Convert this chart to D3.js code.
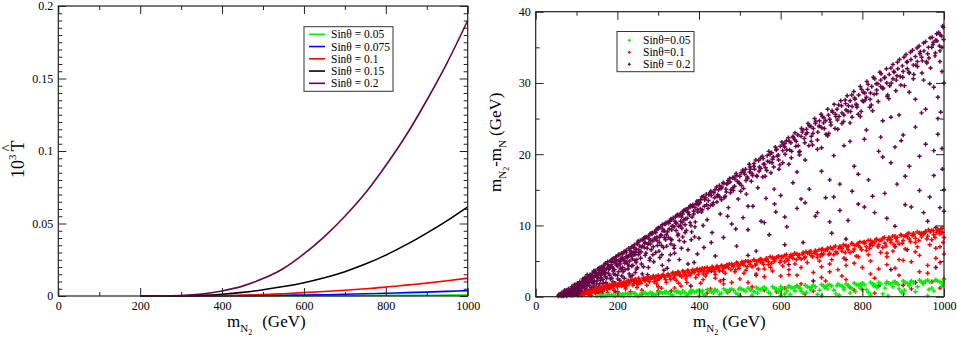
<!DOCTYPE html>
<html lang="en">
<head>
  <meta charset="UTF-8">
  <title>T parameter and mass splitting vs m_N2</title>
  <script src="https://d3js.org/d3.v7.min.js"></script>
  <style>
    body { margin: 0; background: #fff; }
    svg { display: block; }
    svg text { font-family: "Liberation Serif", "Times New Roman", Times, serif !important; fill: #000; }
    .tick text { font-size: 12px; }
  </style>
</head>
<body>
  <svg id="chart" width="957" height="339"></svg>
  <script>
    // left panel: 10^3 T-hat vs m_N2, one curve per sin(theta)
    const massGrid = [200, 250, 300, 350, 400, 450, 500, 550, 600, 650, 700, 750, 800, 850, 900, 950, 1000];
    const tSin005  = [0, 0, 0, 0, 0, 0, 0.0001, 0.0001, 0.0001, 0.0002, 0.0002, 0.0003, 0.0004, 0.0004, 0.0005, 0.0006, 0.0007];
    const tSin0075 = [0, 0, 0, 0, 0.0001, 0.0002, 0.0003, 0.0005, 0.0007, 0.0009, 0.0012, 0.0015, 0.0019, 0.0023, 0.0027, 0.0032, 0.0037];
    const tSin01   = [0, 0, 0, 0.0001, 0.0003, 0.0006, 0.0010, 0.0016, 0.0023, 0.0031, 0.0040, 0.0050, 0.0061, 0.0075, 0.0089, 0.0105, 0.0123];
    const tSin015  = [0, 0, 0.0001, 0.0004, 0.0012, 0.0025, 0.0043, 0.0065, 0.0092, 0.0126, 0.0168, 0.0220, 0.0282, 0.0354, 0.0434, 0.0520, 0.0615];
    const tSin02   = [0, 0.00002, 0.0003, 0.0013, 0.0035, 0.0068, 0.012, 0.019, 0.029, 0.041, 0.055, 0.071, 0.090, 0.111, 0.135, 0.161, 0.19];
    const leftLabels = ["Sin\u03b8 = 0.05", "Sin\u03b8 = 0.075", "Sin\u03b8 = 0.1", "Sin\u03b8 = 0.15", "Sin\u03b8 = 0.2"];
    const leftYTicks = [0, 0.05, 0.1, 0.15, 0.2];
    const xTicks = [0, 200, 400, 600, 800, 1000];

    // right panel: m_N2 - m_N vs m_N2 scan points
    const rightLabels = ["Sin\u03b8=0.05", "Sin\u03b8=0.1", "Sin\u03b8 = 0.2"];
    const rightYTicks = [0, 10, 20, 30, 40];

    const scan02 = [
      [55,0.1],[60,0.3],[62,0.1],[68,0.5],[70,0.2],[74,0.8],[77,0.4],[80,1.1],[82,0.6],[85,0.2],[88,1.4],[90,0.9],[93,0.4],[95,1.7],[97,1.2],
      [100,0.6],[102,1.9],[104,0.2],[106,1.4],[108,2.1],[110,0.9],[112,1.6],[115,2.5],[117,0.4],[119,1.9],[121,2.7],[123,1.1],[125,2.2],[127,0.6],
      [129,2.9],[131,1.6],[133,3.1],[135,2.4],[137,0.9],[139,3.3],[141,1.9],[143,2.8],[145,3.6],[147,0.5],[149,3.0],[150,2.2],[152,3.9],[154,1.4],[156,3.4],
      [158,4.1],[160,2.7],[162,3.7],[164,0.8],[166,4.3],[168,3.1],[170,4.6],[172,2.0],[174,3.9],[176,4.9],[178,3.3],[180,1.2],[182,5.0],[184,4.2],
      [186,2.6],[188,5.3],[190,3.6],[192,4.8],[194,1.8],[196,5.6],[198,4.4],[200,3.0],[202,5.8],[204,5.1],[206,2.3],[208,4.0],[210,6.1],[212,5.4],
      [214,3.5],[216,6.3],[218,4.7],[220,1.5],[222,6.5],[224,5.6],[226,3.9],[228,6.8],[230,5.0],[232,2.8],[234,6.3],[236,7.0],[238,4.4],[240,5.9],
      [242,7.3],[244,3.4],[246,6.7],[248,5.2],[250,7.6],
      [253,6.2],[256,7.9],[259,4.6],[262,7.1],[265,8.2],[268,5.8],[271,8.4],[274,3.1],[277,7.5],[280,8.8],[283,6.6],[286,9.0],[289,4.9],[292,8.1],
      [295,9.4],[298,7.2],[301,9.7],[304,5.5],[307,8.7],[310,10.1],[313,6.9],[316,9.2],[319,10.4],[322,4.0],[325,8.3],[328,10.6],[331,7.4],[334,9.9],
      [337,11.1],[340,6.1],[343,10.3],[346,11.4],[349,8.8],[352,5.2],[355,11.7],[358,9.6],[361,12.0],[364,7.7],[367,10.9],[370,12.3],[373,6.6],
      [376,11.5],[379,12.6],[382,9.1],[385,12.9],[388,4.8],[391,10.5],[394,13.1],[397,11.9],[400,8.2],
      [404,13.6],[408,12.2],[412,6.9],[416,13.9],[420,10.8],[424,14.3],[428,12.8],[432,9.0],[436,14.6],[440,5.7],[444,13.3],[448,15.0],[452,11.6],
      [456,15.4],[460,8.3],[464,14.1],[468,15.8],[472,12.5],[476,16.1],[480,10.2],[484,14.9],[488,16.5],[492,7.1],[496,13.7],[500,16.9],[504,15.6],
      [508,11.1],[512,17.2],[516,14.4],[520,9.4],[524,17.5],[528,16.2],[532,12.7],[536,17.9],[540,6.4],[544,15.3],[548,18.2],[552,10.6],[556,16.8],
      [560,18.6],[564,13.8],[568,19.0],[572,8.7],[576,17.4],[580,19.3],[584,15.1],[588,11.9],[592,19.7],[596,17.9],[600,14.2],
      [605,20.5],[610,21.0],[615,9.8],[620,18.6],[625,21.6],[630,16.0],[635,22.0],[640,12.4],[645,20.3],[650,22.5],[655,7.6],[660,19.2],[665,23.0],
      [670,15.1],[675,21.8],[680,23.6],[685,11.3],[690,20.7],[695,24.0],[700,17.6],[705,24.4],[710,13.9],[715,22.6],[720,24.9],[725,8.9],[730,19.8],
      [735,25.3],[740,23.5],[745,15.8],[750,25.8],[755,21.2],[760,26.2],[765,10.7],[770,24.4],[775,26.7],[780,18.3],[785,27.0],[790,13.0],[795,25.3],[800,27.5],
      [805,22.1],[810,28.0],[815,16.4],[820,28.6],[825,26.1],[830,11.8],[835,29.0],[840,20.4],[845,29.5],[850,24.7],[855,14.5],[860,30.0],[865,27.8],
      [870,18.8],[875,30.6],[880,9.9],[885,31.0],[890,25.5],[895,21.9],[900,31.6],[905,16.9],[910,32.0],[915,28.7],[920,12.6],[925,32.5],[930,23.8],
      [935,33.0],[940,19.7],[945,33.6],[950,30.4],[955,26.3],[960,34.1],[965,14.0],[970,35.0],[975,29.4],[980,36.0],[985,22.8],[990,36.8],[995,31.6],
      [998,37.8],[996,17.9],[992,25.9],
      [120,2.6],[126,3.1],[134,2.9],[142,3.6],[148,3.3],[155,4.0],[163,3.6],[171,4.7],[179,4.3],[187,5.2],[195,4.9],[203,5.9],[211,5.2],[219,6.4],
      [227,5.7],[235,7.0],[243,6.3],[251,7.8],[259,7.0],[267,8.3],[275,7.4],[283,8.9],[291,8.2],[299,9.6],[307,8.6],[315,10.2],[323,9.1],[331,10.9],
      [339,9.8],[347,11.5],[355,10.6],[363,12.1],[371,11.0],[379,12.8],[387,11.6],[395,13.4],[403,12.3],[411,14.1],[419,12.9],[427,14.6],[435,13.2],
      [443,15.4],[451,14.0],[459,16.0],[467,14.7],[475,16.6],[483,15.3],[491,17.3],[499,15.9],[507,17.8],[515,16.3],[523,18.6],[531,17.0],[539,19.2],
      [547,17.6],[555,19.7],[563,18.1],[571,20.4],[579,18.8],[587,21.0],[595,19.2],[603,21.7],[611,20.0],[619,22.3],[627,20.4],[635,23.0],[643,21.2],
      [651,23.6],[659,21.6],[667,24.3],[675,22.5],[683,25.0],[691,23.1],[699,25.6],[707,23.6],[715,26.3],[723,24.1],[731,27.0],[739,24.8],[747,27.5],
      [755,25.5],[763,28.2],[771,26.0],[779,28.8],[787,26.6],[795,29.5],[803,27.4],[811,30.2],[819,27.7],[827,30.8],[835,28.5],[843,31.5],[851,29.3],
      [859,32.0],[867,29.6],[875,32.6],[883,30.4],[891,33.3],[899,30.8],[907,34.0],[915,31.4],[923,34.6],[931,32.5],[939,35.2],[947,33.1],[955,35.8],
      [963,33.5],[971,36.4],[979,34.2],[987,37.1],[995,35.0],
      [620,4.5],[700,6.0],[760,5.2],[820,7.3],[870,3.8],[910,6.6],[950,8.8],[980,4.1],[540,3.0],[460,2.4],[380,1.5],[300,0.8],[250,1.9],[680,2.2],
      [840,1.5],[930,2.0],[720,10.5],[860,11.0],[960,10.6],[990,12.5],[1000,15.0],[975,20.5],[945,25.8],[985,28.0],[1000,30.0],[990,33.0],
      [57,0.3],[64,0.6],[71,0.9],[76,0.1],[79,0.7],[84,1.0],[87,0.3],[92,1.3],[96,0.8],[99,1.6],[103,1.1],[107,0.5],[111,1.9],[114,1.3],[118,2.2],
      [122,1.7],[124,0.9],[128,2.4],[132,2.0],[136,1.3],[140,2.8],[144,2.2],[146,1.0],[151,3.1],[153,2.6],[157,1.8],[161,3.3],[165,2.4],[169,3.7],
      [173,1.1],[177,4.1],[181,3.0],[185,4.5],[189,2.1],[193,3.8],[197,5.0],[201,4.3],[205,1.6],[209,5.4],[213,4.1],[217,2.6],[221,5.6],[225,4.6],
      [229,3.2],[233,6.0],[237,5.3],[241,2.2],[245,6.2],[249,4.1],
      [262,8.0],[268,7.6],[278,8.1],[287,7.8],[294,9.0],[303,8.3],[311,9.5],[318,8.0],[326,10.3],[333,9.4],[341,10.6],[350,9.9],[357,11.2],[366,10.1],
      [374,11.8],[383,11.2],[390,12.5],[398,12.9],[406,11.9],[414,13.6],[422,12.4],[430,14.2],[438,13.9],[446,14.3],[454,15.2],[462,13.9],[470,15.9],
      [478,15.0],[486,16.8],[494,16.2],[502,14.8],[510,17.5],[518,16.8],[526,17.9],[534,18.3],[542,16.9],[550,19.4],[558,18.6],[566,17.7],[574,20.0],
      [582,19.6],[590,20.7],[598,18.5],[606,21.3],[614,21.9],[622,20.6],[630,22.5],[638,21.8],[646,19.9],[654,23.4],[662,22.8],[670,24.0],[678,21.3],
      [686,24.6],[694,23.9],[702,25.3],[710,24.7],[718,22.9],[726,26.1],[734,25.6],[742,26.9],[750,24.3],[758,27.6],[766,26.8],[774,28.3],[782,27.7],
      [790,25.6],[798,29.1],[806,28.6],[814,29.8],[822,26.9],[830,30.6],[838,29.9],[846,31.3],[854,30.7],[862,28.3],[870,32.1],[878,31.5],[886,32.9],
      [894,29.7],[902,33.6],[910,33.0],[918,34.3],[926,31.2],[934,34.9],[942,34.4],[950,35.6],[958,32.8],[966,36.3],[974,35.7],[982,36.9],[990,34.5],[997,38.0],
      [640,17.5],[660,13.2],[700,20.9],[720,16.4],[745,12.1],[770,21.8],[790,17.2],[810,23.4],[825,14.1],[850,19.6],[870,25.2],[885,15.8],[900,22.7],
      [915,18.3],[930,27.7],[940,14.9],[955,21.4],[965,29.9],[975,17.0],[985,25.0],[995,20.8],[1000,12.0],[950,11.8],[905,12.9],[880,21.0],[845,22.4],
      [805,12.6],[775,14.8],[730,14.0],[690,11.8],[650,13.7],[610,11.2],[585,13.0],[560,10.4],[520,12.7],[490,9.5],[470,11.3],[430,7.6],[410,10.0],
      [360,8.4],[330,5.9],[280,5.4],[310,4.4],[430,3.6],[520,5.8],[610,7.3],[760,8.1],[880,7.0],[980,9.7],
      [66,0.2],[73,0.4],[81,0.3],[86,0.8],[91,0.6],[94,1.1],[98,0.3],[101,1.4],[105,0.9],[109,1.7],[113,0.7],[116,2.0],[119,1.2],[124,2.1],[126,1.5],
      [130,0.3],[134,2.6],[138,2.0],[142,1.1],[145,2.9],[149,1.8],[155,3.3],[159,2.3],[163,0.5],[167,3.5],[171,2.8],[175,1.6],[179,3.9],[183,2.5],
      [187,4.2],[191,3.2],[195,0.7],[199,4.6],[203,3.5],[207,4.9],[211,2.9],[215,5.3],[219,3.8],[223,4.9],[227,2.2],[231,5.9],[235,4.3],[239,6.2],
      [243,5.1],[247,3.9],[252,6.6],[257,5.4],[261,3.2],[266,6.9],[270,6.1],[276,4.1],[281,7.4],[287,5.9],[293,2.6],[297,7.9],[302,6.4],[308,7.2],
      [314,3.7],[320,8.7],[326,5.1],[333,8.0],[339,6.8],[344,9.3],[352,7.9],[359,10.4],[366,9.0],[373,4.6],[380,10.0],[389,8.4],[396,6.0],
      [58,0.2],[63,0.4],[67,0.1],[72,0.6],[75,0.3],[78,0.9],[83,0.5],[89,1.0],[91,0.2],[96,1.5],[98,1.0],[102,0.8],[105,1.8],[108,1.2],[111,0.3],[113,2.1],
      [117,1.5],[121,0.8],[123,2.5],[127,1.9],[130,2.8],[133,1.0],[136,2.9],[139,2.3],[143,1.5],[146,3.5],[150,2.8],[153,0.6],[156,3.8],[159,3.0],
      [162,4.2],[165,1.9],[168,4.0],[171,3.4],[174,2.6],[177,4.5],[180,3.9],[183,1.4],[186,4.9],[189,4.0],[192,5.4],[195,3.1],[198,5.2],[201,2.5],
      [204,5.9],[207,4.6],[210,3.8],[213,6.0],[216,5.1],[219,1.9],[222,6.2],[225,5.5],[228,4.3],[231,6.5],[234,5.7],[237,3.0],[240,6.9],[243,5.9],
      [246,4.8],[249,7.4],[252,5.9],[255,7.1],[258,6.3],[261,8.0],[264,4.2],[267,7.5],[270,8.3],[273,6.8],[276,8.5],[279,5.1],[282,7.9],[285,8.8],
      [288,7.0],[291,9.1],[294,6.2],[297,8.4],[300,9.5],[303,7.6],[306,9.8],[309,5.9],[312,9.2],[315,8.3],[318,10.2],[321,7.1],[324,10.5],[327,9.5],
      [330,8.1],[333,10.8],[336,9.9],[339,7.2],[342,11.2],[345,10.3],[348,8.6],[351,11.4],[354,10.0],[357,6.8],[360,11.6],[363,10.8],[366,12.2],
      [369,9.3],[372,11.9],[375,12.5],[378,10.4],[381,8.0],[384,12.7],[387,12.0],[390,9.8],[393,13.0],[396,12.2],[399,13.4],
      [402,13.2],[407,14.0],[413,12.7],[418,14.4],[423,13.5],[429,14.8],[434,12.9],[439,15.0],[445,14.1],[450,15.6],[455,13.6],[461,15.9],[466,15.1],
      [471,16.3],[477,14.6],[482,16.7],[487,15.5],[493,17.0],[498,16.0],[503,17.4],[509,15.2],[514,17.9],[519,16.6],[525,18.2],[530,17.3],[535,18.7],
      [541,17.0],[546,19.1],[551,18.0],[557,19.4],[562,16.9],[567,19.8],[573,18.9],[578,20.2],[583,18.2],[589,20.6],[594,19.9],[599,21.1],[605,18.8],
      [610,21.5],[615,20.6],[621,21.8],[626,19.5],[631,22.3],[637,21.1],[642,22.7],[647,20.4],[653,23.1],[658,22.2],[663,23.5],[669,21.2],[674,23.9],
      [679,22.9],[685,24.3],[690,22.0],[695,24.7],[701,23.7],[706,25.1],[711,22.8],[717,25.5],[722,24.5],[727,25.9],[733,23.6],[738,26.3],[743,25.3],
      [749,26.8],[754,24.6],[759,27.1],[765,26.0],[770,27.5],[775,25.2],[781,27.9],[786,26.9],[791,28.3],[797,26.0],[802,28.7],[807,27.6],[813,29.1],
      [818,26.6],[823,29.5],[829,28.4],[834,29.9],[839,27.4],[845,30.4],[850,29.2],[855,30.8],[861,28.1],[866,31.2],[871,30.0],[877,31.6],[882,28.9],
      [887,32.0],[893,30.9],[898,32.4],[903,29.6],[909,32.9],[914,31.5],[919,33.3],[925,30.6],[930,33.7],[935,32.3],[941,34.1],[946,31.4],[951,34.5],
      [957,33.0],[962,35.0],[967,32.1],[973,35.4],[978,33.8],[983,35.9],[989,35.2],[994,36.6],[999,36.1]
    ];

    const scan01 = [
      [112,0.2],[116,0.5],[120,0.3],[124,0.7],[128,0.4],[132,0.9],[136,0.2],[140,1.0],[144,0.6],[148,1.2],[152,0.8],[156,1.3],[160,0.4],[164,1.5],
      [168,1.0],[172,1.6],[176,0.6],[180,1.7],[184,1.2],[188,1.8],[192,0.9],[196,1.9],[200,1.4],[204,0.5],[208,2.0],[212,1.6],[216,2.1],[220,1.1],
      [224,2.2],[228,1.8],[232,0.7],[236,2.4],[240,1.9],[244,2.5],[248,1.3],[252,2.6],[256,2.1],[260,0.9],[264,2.7],[268,2.2],[272,1.6],[276,2.8],
      [280,2.4],[284,0.4],[288,2.9],[292,2.5],[296,1.8],[300,3.0],[304,2.6],[308,1.2],[312,3.1],[316,2.7],[320,2.0],[324,3.2],[328,2.8],[332,0.8],
      [336,3.4],[340,2.9],[344,2.3],[348,3.5],[352,3.0],[356,1.5],[360,3.6],[364,3.1],[368,2.5],[372,3.7],[376,3.3],[380,0.6],[384,3.8],[388,3.4],
      [392,2.7],[396,3.9],[400,3.5],[404,1.9],[408,4.0],[412,3.6],[416,2.9],[420,4.1],[424,3.7],[428,1.1],[432,4.2],[436,3.8],[440,3.1],[444,4.3],
      [448,3.9],[452,2.2],[456,4.4],[460,4.0],[464,3.3],[468,4.5],[472,4.1],[476,0.9],[480,4.6],[484,4.2],[488,3.5],[492,4.8],[496,4.3],[500,2.5],
      [505,4.9],[510,4.4],[515,3.7],[520,5.0],[525,4.5],[530,1.4],[535,5.1],[540,4.6],[545,3.9],[550,5.3],[555,4.8],[560,2.8],[565,5.4],[570,4.9],
      [575,4.1],[580,5.5],[585,5.0],[590,0.7],[595,5.7],[600,5.1],[605,4.3],[610,5.8],[615,5.3],[620,3.1],[625,5.9],[630,5.4],[635,4.6],[640,6.0],
      [645,5.5],[650,1.8],[655,6.2],[660,5.6],[665,4.8],[670,6.3],[675,5.8],[680,3.4],[685,6.5],[690,5.9],[695,5.0],[700,6.6],[705,6.0],[710,2.2],
      [715,6.8],[720,6.1],[725,5.2],[730,6.9],[735,6.3],[740,3.8],[745,7.1],[750,6.4],[755,5.4],[760,7.2],[765,6.6],[770,1.3],[775,7.4],[780,6.7],
      [785,5.7],[790,7.5],[795,6.9],[800,4.1],[805,7.7],[810,7.0],[815,5.9],[820,7.9],[825,7.2],[830,2.6],[835,8.0],[840,7.3],[845,6.2],[850,8.2],
      [855,7.5],[860,4.5],[865,8.3],[870,7.6],[875,6.4],[880,8.5],[885,7.8],[890,3.0],[895,8.6],[900,7.9],[905,6.7],[910,8.8],[915,8.1],[920,4.9],
      [925,8.9],[930,8.2],[935,7.0],[940,9.0],[945,8.4],[950,1.9],[955,9.2],[960,8.5],[965,7.3],[970,9.3],[975,8.7],[980,5.4],[985,9.4],[990,8.8],
      [995,9.6],[998,7.6],[1000,6.0],
      [210,1.5],[230,2.1],[250,1.7],[270,2.6],[290,2.1],[310,3.0],[330,2.4],[350,3.4],[370,2.9],[390,3.7],[410,3.2],[430,3.9],[450,3.6],[470,4.4],
      [490,3.8],[510,4.8],[530,4.2],[550,4.9],[570,4.5],[590,5.5],[610,4.9],[630,5.8],[650,5.3],[670,6.1],[690,5.5],[710,6.5],[730,5.9],[750,6.8],
      [770,6.2],[790,7.2],[810,6.5],[830,7.6],[850,6.9],[870,8.0],[890,7.4],[910,8.4],[930,7.6],[950,8.9],[970,8.0],[990,9.2],
      [260,0.3],[340,1.2],[420,0.5],[460,1.8],[520,2.0],[560,0.9],[600,2.9],[640,1.5],[680,0.8],[720,3.5],[760,2.4],[800,1.0],[840,3.9],[880,2.0],
      [920,1.1],[960,3.3],[1000,2.5],[940,5.8],[900,5.1],[860,5.6],[780,4.7],[700,4.2],[620,3.8],[540,3.2],[980,6.8],[1000,8.3],
      [138,0.7],[146,0.9],[154,1.1],[162,1.2],[170,1.4],[178,1.2],[186,1.6],[194,1.7],[202,1.8],[214,1.9],[222,1.5],[234,2.2],[242,2.3],[254,2.3],
      [262,2.5],[274,2.4],[282,2.7],[294,2.8],[302,2.5],[314,2.9],[322,3.0],[334,3.2],[342,3.3],[354,3.1],[362,3.5],[374,3.6],[382,3.4],[394,3.8],
      [402,3.9],[414,4.0],[422,3.6],[434,4.1],[442,4.0],[454,4.3],[462,4.2],[474,4.6],[482,4.4],[494,4.7],[502,4.5],[514,5.0],[522,4.8],[534,5.2],
      [542,5.0],[554,5.2],[562,5.1],[574,5.6],[582,5.3],[594,5.6],[602,5.6],[614,5.9],[622,5.6],[634,6.1],[642,5.8],[654,6.0],[662,6.3],[674,6.4],
      [682,6.1],[694,6.6],[702,6.7],[714,6.6],[722,6.9],[734,7.1],[742,6.8],[754,7.3],[762,7.0],[774,7.5],[782,7.2],[794,7.7],[802,7.6],[814,7.9],
      [822,7.5],[834,8.1],[842,7.9],[854,8.3],[862,8.0],[874,8.5],[882,8.2],[894,8.7],[902,8.5],[914,8.9],[922,8.6],[934,9.1],[942,8.8],[954,9.0],
      [962,9.4],[974,9.3],[982,9.0],[992,9.5],
      [300,1.4],[370,2.0],[440,2.6],[510,3.3],[580,3.6],[650,4.1],[720,4.6],[790,5.6],[860,6.1],[930,6.3],[990,7.0],[960,4.4],[890,5.2],[820,3.2],
      [750,2.9],[610,1.2],[470,0.6],[990,1.2],[830,0.5],
      [118,0.4],[126,0.6],[134,0.5],[142,0.9],[150,1.0],[158,0.9],[166,1.3],[174,1.1],[182,1.5],[190,1.4],[198,1.6],[206,1.7],[218,1.4],[226,2.0],
      [238,1.6],[246,2.2],[258,1.9],[266,2.4],[278,2.1],[286,2.6],[298,2.3],[306,2.8],[318,2.4],[326,3.0],[338,2.6],[346,3.2],[358,2.8],[366,3.4],
      [378,3.0],[386,3.6],[398,3.1],[406,3.7],[418,3.3],[426,3.9],[438,3.5],[446,4.1],[458,3.6],[466,4.2],[478,3.8],[486,4.5],[498,4.0],[506,4.7],
      [518,4.2],[526,4.9],[538,4.4],[546,5.1],[558,4.5],[566,5.2],[578,4.7],[586,5.4],[598,4.8],[606,5.6],[618,5.1],[626,5.7],[638,5.2],[646,5.9],
      [658,5.4],[666,6.1],[678,5.6],[686,6.3],[698,5.7],[706,6.5],[718,5.9],[726,6.7],[738,6.1],[746,6.9],[758,6.2],[766,7.1],[778,6.4],[786,7.3],
      [798,6.6],[806,7.5],[818,6.8],[826,7.7],[838,7.0],[846,7.9],[858,7.1],[866,8.1],[878,7.3],[886,8.3],[898,7.5],[906,8.5],[918,7.7],[926,8.7],
      [938,7.9],[946,8.9],[958,8.1],[966,9.1],[978,8.3],[986,9.3],[996,9.0],
      [350,1.9],[410,2.4],[480,2.0],[560,3.9],[640,3.0],[700,2.7],[760,4.4],[820,5.0],[880,4.0],[940,3.5],[990,4.8],[970,2.1],[900,1.6],[780,0.9],[660,0.4]
    ];

    const scan005 = [
      [150,0.1],[160,0.2],[170,0.1],[180,0.3],[190,0.2],[200,0.4],[210,0.2],[220,0.5],[230,0.3],[240,0.5],[250,0.1],[260,0.6],[270,0.4],[280,0.6],
      [290,0.2],[300,0.7],[310,0.5],[320,0.7],[330,0.3],[340,0.8],[350,0.6],[360,0.8],[370,0.2],[380,0.9],[390,0.6],[400,0.9],[410,0.4],[420,1.0],
      [430,0.7],[440,1.0],[450,0.3],[460,1.1],[470,0.8],[480,1.1],[490,0.5],[500,1.2],[510,0.9],[520,1.2],[530,0.2],[540,1.3],[550,1.0],[560,1.3],
      [570,0.6],[580,1.4],[590,1.1],[600,1.4],[610,0.4],[620,1.5],[630,1.2],[640,1.5],[650,0.8],[660,1.6],[670,1.3],[680,1.6],[690,0.3],[700,1.7],
      [710,1.4],[720,1.7],[730,0.9],[740,1.8],[750,1.5],[760,1.8],[770,0.5],[780,1.9],[790,1.6],[800,1.9],[810,1.0],[820,2.0],[830,1.7],[840,2.0],
      [850,0.4],[860,2.1],[870,1.8],[880,2.1],[890,1.1],[900,2.2],[910,1.9],[920,2.2],[930,0.7],[940,2.3],[950,2.0],[960,2.3],[970,1.2],[980,2.4],
      [990,2.1],[1000,2.4],
      [205,0.3],[225,0.4],[245,0.3],[265,0.5],[285,0.5],[305,0.6],[325,0.5],[345,0.7],[365,0.6],[385,0.8],[405,0.7],[425,0.9],[445,0.8],[465,0.9],
      [485,0.9],[505,1.0],[525,1.0],[545,1.1],[565,1.1],[585,1.2],[605,1.2],[625,1.3],[645,1.3],[665,1.4],[685,1.4],[705,1.5],[725,1.5],[745,1.6],
      [765,1.6],[785,1.7],[805,1.7],[825,1.8],[845,1.8],[865,1.9],[885,1.9],[905,2.0],[925,2.0],[945,2.1],[965,2.1],[985,2.2],
      [215,0.1],[255,0.2],[295,0.3],[335,0.2],[375,0.4],[415,0.2],[455,0.5],[495,0.3],[535,0.7],[575,0.4],[615,0.8],[655,0.5],[695,0.9],[735,0.4],
      [775,1.1],[815,0.6],[855,1.2],[895,0.7],[935,1.4],[975,0.8],[995,1.5],[915,1.6],[875,1.4],[835,1.3],[795,1.2],[755,1.0],[715,1.1],[675,0.9],
      [635,0.8],[595,0.9],
      [160,0.05],[175,0.25],[195,0.15],[235,0.45],[275,0.3],[315,0.65],[355,0.45],[395,0.8],[435,0.55],[475,1.0],[515,0.75],[555,1.15],[595,0.7],
      [635,1.35],[675,1.05],[715,1.6],[755,1.25],[795,1.75],[835,1.45],[875,2.0],[915,1.55],[955,2.2],[995,1.8],[700,0.1],[820,0.25],[900,0.4],
      [960,0.15],[600,0.2],[500,0.15],[400,0.1],
      [165,0.15],[185,0.25],[213,0.35],[243,0.45],[268,0.55],[288,0.35],[318,0.55],[348,0.75],[378,0.65],[408,0.85],[438,0.95],[468,0.7],[498,1.05],
      [528,0.95],[558,1.2],[588,1.0],[618,1.35],[648,1.15],[678,1.45],[708,1.25],[738,1.55],[768,1.4],[798,1.6],[828,1.5],[858,1.85],[888,1.7],[918,2.0],
      [948,1.85],[978,2.25],[998,2.0],[543,0.5],[663,0.6],[783,0.7],[903,0.9],[963,1.0],[743,0.2],[863,0.1],[623,0.3]
    ];

    const green = "#00ee00", blue = "#0000ff", red = "#ff0000", black = "#000000", maroon = "#670748";
    const serif = '"Liberation Serif", "Times New Roman", Times, serif';
    const svg = d3.select("#chart");

    function frame(x, y, xMinor, yMinor, yTicks, fmt) {
      const g = svg.append("g");
      const [x0, x1] = x.range(), [y0, y1] = y.range();
      const add = (axis, tx, ty) => {
        const a = g.append("g").attr("transform", `translate(${tx},${ty})`).call(axis);
        a.attr("font-family", serif).attr("font-size", 12);
        a.select(".domain").remove();
        a.selectAll("line").attr("stroke", "#222");
        return a;
      };
      add(d3.axisBottom(x).tickValues(xTicks).tickSize(-8).tickSizeOuter(0).tickPadding(5).tickFormat(d => d), 0, y0);
      add(d3.axisBottom(x).tickValues(xMinor).tickSize(-4).tickFormat(""), 0, y0);
      add(d3.axisTop(x).tickValues(xTicks).tickSize(-8).tickFormat(""), 0, y1);
      add(d3.axisTop(x).tickValues(xMinor).tickSize(-4).tickFormat(""), 0, y1);
      add(d3.axisLeft(y).tickValues(yTicks).tickSize(-8).tickSizeOuter(0).tickPadding(5).tickFormat(fmt), x0, 0);
      add(d3.axisLeft(y).tickValues(yMinor).tickSize(-4).tickFormat(""), x0, 0);
      add(d3.axisRight(y).tickValues(yTicks).tickSize(-8).tickFormat(""), x1, 0);
      add(d3.axisRight(y).tickValues(yMinor).tickSize(-4).tickFormat(""), x1, 0);
      return g;
    }

    // ---------- left panel ----------
    const xL = d3.scaleLinear().domain([0, 1000]).range([58.3, 467.7]);
    const yL = d3.scaleLinear().domain([0, 0.2]).range([296, 6]);

    const curves = [
      { vals: tSin005, color: green, label: leftLabels[0] },
      { vals: tSin0075, color: blue, label: leftLabels[1] },
      { vals: tSin01, color: red, label: leftLabels[2] },
      { vals: tSin015, color: black, label: leftLabels[3] },
      { vals: tSin02, color: maroon, label: leftLabels[4] }
    ];
    const line = d3.line().x((d, i) => xL(massGrid[i])).y(d => yL(d)).curve(d3.curveMonotoneX);
    svg.append("g").selectAll("path").data(curves).enter().append("path")
      .attr("d", d => line(d.vals))
      .attr("fill", "none").attr("stroke", d => d.color).attr("stroke-width", 1.6);

    const leftMinorX = d3.range(100, 1000, 200);
    const leftMinorY = d3.range(0, 41).filter(i => i % 10 !== 0).map(i => i * 0.005);
    frame(xL, yL, leftMinorX, leftMinorY, leftYTicks, d => d);
    svg.append("rect").attr("x", 58.3).attr("y", 6).attr("width", 409.4).attr("height", 290)
      .attr("fill", "none").attr("stroke", "#222").attr("stroke-width", 1.2);

    // left legend
    const legL = svg.append("g").attr("transform", "translate(304,26.7)").attr("font-family", serif);
    legL.append("rect").attr("width", 89).attr("height", 64.6)
      .attr("fill", "#fff").attr("stroke", "#333").attr("stroke-width", 1);
    curves.forEach((c, i) => {
      const yy = 7.6 + i * 12.25;
      legL.append("line").attr("x1", 5).attr("x2", 21).attr("y1", yy).attr("y2", yy)
        .attr("stroke", c.color).attr("stroke-width", 1.6);
      legL.append("text").attr("x", 27).attr("y", yy + 4).attr("font-size", 11.5).text(c.label);
    });

    // left axis titles
    svg.append("text").attr("x", 227).attr("y", 327).attr("font-size", 17).attr("font-family", serif)
      .html('m<tspan font-size="11" dy="5">N</tspan><tspan font-size="8" dy="3">2</tspan><tspan dy="-8" dx="10">(GeV)</tspan>');
    svg.append("text").attr("transform", "translate(24,178) rotate(-90)").attr("font-size", 18).attr("font-family", serif)
      .html('10<tspan font-size="11" dy="-8">3</tspan><tspan dy="8" dx="3">T</tspan><tspan dx="-11" dy="-12" font-size="15">^</tspan>');

    // ---------- right panel ----------
    const xR = d3.scaleLinear().domain([0, 1000]).range([535.7, 944]);
    const yR = d3.scaleLinear().domain([0, 40]).range([296.7, 11.7]);
    const plus = "M-2.2,0H2.2M0,-2.2V2.2";

    const groups = [
      { pts: scan02, color: maroon },
      { pts: scan01, color: red },
      { pts: scan005, color: green }
    ];
    groups.forEach(gp => {
      svg.append("g").selectAll("path").data(gp.pts).enter().append("path")
        .attr("d", plus)
        .attr("transform", d => `translate(${xR(d[0])},${yR(d[1])})`)
        .attr("stroke", gp.color).attr("stroke-width", 1.45);
    });

    frame(xR, yR, d3.range(100, 1000, 200), d3.range(5, 40, 10), rightYTicks, d => d);
    svg.append("rect").attr("x", 535.7).attr("y", 11.7).attr("width", 408.3).attr("height", 285)
      .attr("fill", "none").attr("stroke", "#222").attr("stroke-width", 1.2);

    // right legend
    const legR = svg.append("g").attr("transform", "translate(617,31.5)").attr("font-family", serif);
    legR.append("rect").attr("width", 77).attr("height", 40.2)
      .attr("fill", "#fff").attr("stroke", "#333").attr("stroke-width", 1);
    [green, red, maroon].forEach((c, i) => {
      const yy = 8.8 + i * 12;
      legR.append("path").attr("d", "M-1.5,0H1.5M0,-1.5V1.5")
        .attr("transform", `translate(12.3,${yy})`).attr("stroke", c).attr("stroke-width", 1.2);
      legR.append("text").attr("x", 26).attr("y", yy + 4).attr("font-size", 11.5).text(rightLabels[i]);
    });

    // right axis titles
    svg.append("text").attr("x", 693).attr("y", 327).attr("font-size", 17).attr("font-family", serif)
      .html('m<tspan font-size="11" dy="5">N</tspan><tspan font-size="8" dy="3">2</tspan><tspan dy="-8" dx="4">(GeV)</tspan>');
    svg.append("text").attr("transform", "translate(501,192) rotate(-90)").attr("font-size", 17).attr("font-family", serif)
      .html('m<tspan font-size="11" dy="5">N</tspan><tspan font-size="8" dy="3">2</tspan><tspan dy="-8">-m</tspan><tspan font-size="11" dy="5">N</tspan><tspan dy="-5" dx="4">(GeV)</tspan>');
  </script>
</body>
</html>
